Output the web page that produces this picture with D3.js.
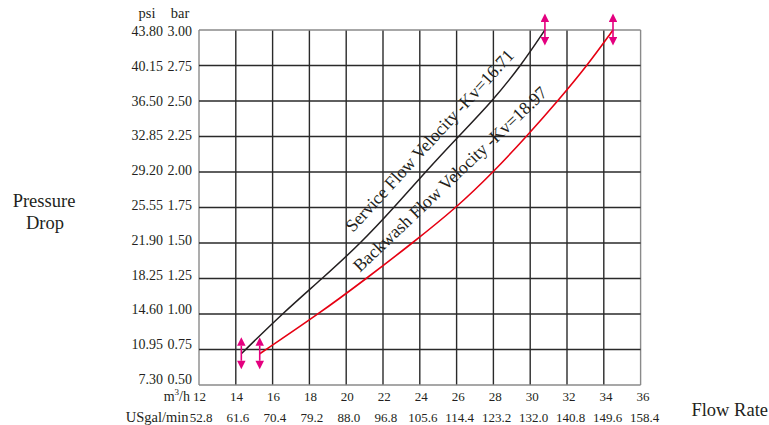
<!DOCTYPE html>
<html><head><meta charset="utf-8">
<script src="https://cdn.jsdelivr.net/npm/d3@7"></script>
<style>
html,body{margin:0;padding:0;background:#fff;}
svg{display:block;font-family:"Liberation Serif","Times New Roman",serif;}
</style></head>
<body><svg id="c" width="769" height="425"></svg>
<script>
// ---- data ----
const flowTicks = [12,14,16,18,20,22,24,26,28,30,32,34,36];            // m3/h
const usgalLabels = ["52.8","61.6","70.4","79.2","88.0","96.8","105.6","114.4","123.2","132.0","140.8","149.6","158.4"];
const barTicks = [0.50,0.75,1.00,1.25,1.50,1.75,2.00,2.25,2.50,2.75,3.00];
const psiLabels = ["7.30","10.95","14.60","18.25","21.90","25.55","29.20","32.85","36.50","40.15","43.80"];
const serviceFlow = [14.3,16.5,18.7,20.8,22.6,24.3,26.1,27.95,29.5,30.8];
const serviceBar  = [0.72,1.00,1.25,1.50,1.75,2.00,2.25,2.50,2.75,3.00];
const backwashFlow = [15.3,18.5,21.1,23.6,26.0,28.0,29.8,31.5,33.1,34.5];
const backwashBar  = [0.72,1.00,1.25,1.50,1.75,2.00,2.25,2.50,2.75,3.00];
const serviceLabel = "Service Flow Velocity -Kv=16.71";
const backwashLabel = "Backwash Flow Velocity -Kv=18.97";

// ---- layout ----
const svg = d3.select("#c");
const x = d3.scaleLinear().domain([12,36]).range([199,640.6]);
const y = d3.scaleLinear().domain([0.5,3.0]).range([385,30]);
const xl = d3.scaleLinear().domain([12,36]).range([199.5,643]);   // tick label positions
const yl = d3.scaleLinear().domain([0.5,3.0]).range([379,31]);
const MAG = "#e4007f", INK = "#231f20";

// grid
const g = svg.append("g");
g.selectAll("line.v").data(flowTicks).join("line")
  .attr("x1",d=>x(d)).attr("x2",d=>x(d)).attr("y1",y(3)).attr("y2",y(0.5))
  .attr("stroke",(d,i)=> (i===0||i===flowTicks.length-1)?"#8a8a8a":"#2a2a2a")
  .attr("stroke-width",1.4);
g.selectAll("line.h").data(barTicks).join("line")
  .attr("y1",d=>y(d)).attr("y2",d=>y(d)).attr("x1",x(12)).attr("x2",x(36))
  .attr("stroke",(d,i)=> (i===0||i===barTicks.length-1)?"#8a8a8a":"#2a2a2a")
  .attr("stroke-width",1.4);

// y axis labels
const fs = "14px";
svg.selectAll("text.psi").data(barTicks).join("text")
  .attr("x",163).attr("y",d=>yl(d)).attr("dy","0.35em").attr("text-anchor","end")
  .attr("font-size",fs).attr("fill",INK).text((d,i)=>psiLabels[i]);
svg.selectAll("text.bar").data(barTicks).join("text")
  .attr("x",192).attr("y",d=>yl(d)).attr("dy","0.35em").attr("text-anchor","end")
  .attr("font-size",fs).attr("fill",INK).text(d=>d.toFixed(2));
svg.append("text").attr("x",147).attr("y",18).attr("text-anchor","middle").attr("font-size","14.5px").attr("fill",INK).text("psi");
svg.append("text").attr("x",180).attr("y",18).attr("text-anchor","middle").attr("font-size","14.5px").attr("fill",INK).text("bar");

// x axis labels
svg.selectAll("text.fx").data(flowTicks).join("text")
  .attr("x",d=>xl(d)).attr("y",401).attr("text-anchor","middle")
  .attr("font-size","13px").attr("fill",INK).text(d=>d);
svg.selectAll("text.gx").data(flowTicks).join("text")
  .attr("x",d=>xl(d)+1.5).attr("y",422).attr("text-anchor","middle")
  .attr("font-size","13px").attr("fill",INK).text((d,i)=>usgalLabels[i]);
const mh = svg.append("text").attr("x",190).attr("y",401).attr("text-anchor","end").attr("font-size","14px").attr("fill",INK);
mh.append("tspan").text("m");
mh.append("tspan").attr("font-size","9px").attr("dy","-6").text("3");
mh.append("tspan").attr("dy","6").text("/h");
svg.append("text").attr("x",188.5).attr("y",422).attr("text-anchor","end").attr("font-size","14.5px").attr("fill",INK).text("USgal/min");

// axis titles
svg.append("text").attr("x",768).attr("y",416).attr("text-anchor","end").attr("font-size","18.5px").attr("fill",INK).text("Flow Rate");
svg.append("text").attr("x",44).attr("y",207).attr("text-anchor","middle").attr("font-size","18.5px").attr("fill",INK).text("Pressure");
svg.append("text").attr("x",45).attr("y",229).attr("text-anchor","middle").attr("font-size","18.5px").attr("fill",INK).text("Drop");

// curves
const line = d3.line().x(d=>x(d[0])).y(d=>y(d[1])).curve(d3.curveBasis);
const sData = serviceFlow.map((f,i)=>[f,serviceBar[i]]);
const bData = backwashFlow.map((f,i)=>[f,backwashBar[i]]);
svg.append("path").attr("d",line(sData)).attr("fill","none").attr("stroke",INK).attr("stroke-width",1.5);
svg.append("path").attr("d",line(bData)).attr("fill","none").attr("stroke","#e60012").attr("stroke-width",1.6);

// curve labels
svg.append("text").attr("transform",`translate(${x(20.37)},${y(1.57)}) rotate(-47.5)`)
  .attr("font-size","17.8px").attr("fill",INK).text(serviceLabel);
svg.append("text").attr("transform",`translate(${x(20.75)},${y(1.29)}) rotate(-43.5)`)
  .attr("font-size","17.8px").attr("fill",INK).text(backwashLabel);

// arrows at curve ends
const defs = svg.append("defs");
defs.append("marker").attr("id","ah").attr("viewBox","0 0 10 10").attr("refX",0).attr("refY",5)
  .attr("markerWidth",10).attr("markerHeight",8.5).attr("markerUnits","userSpaceOnUse")
  .attr("orient","auto-start-reverse")
  .append("path").attr("d","M0,0 L10,5 L0,10 Z").attr("fill",MAG);
const ends = [sData[0], bData[0], sData[sData.length-1], bData[bData.length-1]];
svg.selectAll("line.arr").data(ends).join("line")
  .attr("x1",d=>x(d[0])).attr("x2",d=>x(d[0]))
  .attr("y1",d=>y(d[1])-8).attr("y2",d=>y(d[1])+7)
  .attr("stroke",MAG).attr("stroke-width",1.6)
  .attr("marker-start","url(#ah)").attr("marker-end","url(#ah)");
</script></body></html>
